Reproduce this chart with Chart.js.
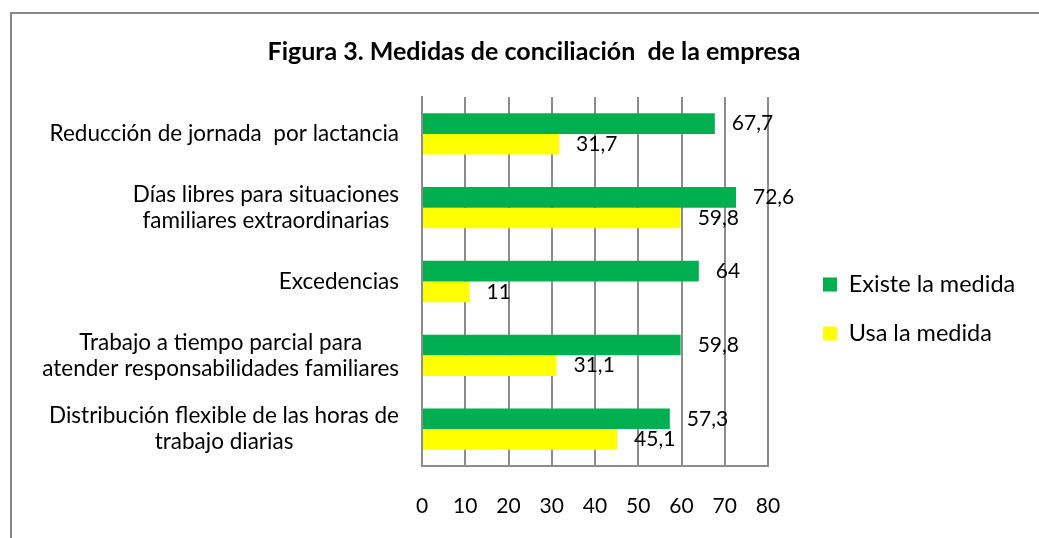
<!DOCTYPE html>
<html>
<head>
<meta charset="utf-8">
<script src="https://cdn.jsdelivr.net/npm/chart.js@4.4.1/dist/chart.umd.min.js"></script>
<style>
html,body{margin:0;padding:0;background:#fff;}
#wrap{width:1039px;height:538px;position:relative;}
canvas{display:block;}
</style>
</head>
<body>
<div id="wrap"><canvas id="c" width="1039" height="538"></canvas></div>
<script>
// ---- data ----
const titleText = 'Figura 3. Medidas de conciliación  de la empresa';
const categories = [
  ['Reducción de jornada  por lactancia'],
  ['Días libres para situaciones', 'familiares extraordinarias'],
  ['Excedencias'],
  ['Trabajo a tiempo parcial para', 'atender responsabilidades familiares'],
  ['Distribución flexible de las horas de', 'trabajo diarias']
];
const seriesNames = ['Existe la medida', 'Usa la medida'];
const existeValues = [67.7, 72.6, 64, 59.8, 57.3];
const usaValues = [31.7, 59.8, 11, 31.1, 45.1];
const xMin = 0, xMax = 80, xStep = 10;

// ---- style ----
const FONT = 'Lato';
const GREEN = '#00B050';
const YELLOW = '#FFFF00';
const GRID = '#8c8c8c';
const TXT = '#000000';

function fmt(v) { return String(v).replace('.', ','); }

const framePlugin = {
  id: 'frame',
  beforeDraw(chart) {
    const ctx = chart.ctx;
    ctx.save();
    ctx.strokeStyle = '#878787';
    ctx.lineWidth = 2;
    ctx.beginPath();
    ctx.moveTo(11, chart.height);
    ctx.lineTo(11, 13);
    ctx.lineTo(chart.width, 13);
    ctx.stroke();
    ctx.restore();
  }
};

const legendShift = {
  id: 'legendShift',
  afterLayout(chart) {
    const l = chart.legend;
    if (!l) return;
    l.left += 29.5;
    l.right = chart.width;
    l.width = l.right - l.left;
    l.top += 50; l.bottom += 50;
  }
};

const catLabels = {
  id: 'catLabels',
  afterDraw(chart) {
    const ctx = chart.ctx;
    const ys = chart.scales.y;
    const right = chart.chartArea.left - 23;
    const lh = 26;
    ctx.save();
    ctx.font = '22.5px ' + FONT;
    ctx.fillStyle = TXT;
    ctx.textAlign = 'center';
    ctx.textBaseline = 'middle';
    chart.data.labels.forEach((lines, i) => {
      const y = ys.getPixelForValue(i);
      const w = Math.max(...lines.map(t => ctx.measureText(t).width));
      const cx = right - w / 2;
      lines.forEach((t, j) => {
        ctx.fillText(t, cx, y + (j - (lines.length - 1) / 2) * lh);
      });
    });
    ctx.restore();
  }
};

const valueLabels = {
  id: 'valueLabels',
  afterDatasetsDraw(chart) {
    const ctx = chart.ctx;
    ctx.save();
    ctx.font = '21px ' + FONT;
    ctx.fillStyle = TXT;
    ctx.textAlign = 'left';
    ctx.textBaseline = 'middle';
    chart.data.datasets.forEach((ds, di) => {
      const meta = chart.getDatasetMeta(di);
      meta.data.forEach((el, i) => {
        ctx.fillText(fmt(ds.data[i]), el.x + 17, el.y);
      });
    });
    ctx.restore();
  }
};

function build() {
  Chart.defaults.font.family = FONT;
  Chart.defaults.color = TXT;
  new Chart(document.getElementById('c'), {
    type: 'bar',
    data: {
      labels: categories,
      datasets: [
        { label: seriesNames[0], data: existeValues, backgroundColor: GREEN, borderWidth: 0,
          categoryPercentage: 0.56, barPercentage: 1.0 },
        { label: seriesNames[1], data: usaValues, backgroundColor: YELLOW, borderWidth: 0,
          categoryPercentage: 0.56, barPercentage: 1.0 }
      ]
    },
    options: {
      indexAxis: 'y',
      responsive: false,
      animation: false,
      devicePixelRatio: 1,
      layout: { padding: { left: 150, right: 121, top: 0, bottom: 20 } },
      scales: {
        x: {
          type: 'linear',
          min: xMin, max: xMax,
          ticks: { stepSize: xStep, padding: 28, font: { size: 21 }, color: TXT },
          grid: { color: GRID, lineWidth: 2, drawTicks: false },
          border: { display: true, color: GRID, width: 2 },
          afterFit(s) { s.height = 52; }
        },
        y: {
          type: 'category',
          ticks: { display: false },
          grid: { display: false },
          border: { display: true, color: GRID, width: 2 },
          afterFit(s) { s.width = 272; }
        }
      },
      plugins: {
        title: {
          display: true,
          text: titleText,
          color: TXT,
          font: { size: 25, weight: 'bold' },
          padding: { top: 37, bottom: 30 }
        },
        legend: {
          position: 'right',
          maxWidth: 150,
          labels: { boxWidth: 14, boxHeight: 14, padding: 25.5, font: { size: 23.5 }, color: TXT }
        },
        tooltip: { enabled: false }
      }
    },
    plugins: [framePlugin, legendShift, catLabels, valueLabels]
  });
}

if (document.fonts && document.fonts.load) {
  Promise.all([document.fonts.load('22px Lato'), document.fonts.load('bold 25px Lato')])
    .then(build, build);
} else { build(); }
</script>
</body>
</html>
